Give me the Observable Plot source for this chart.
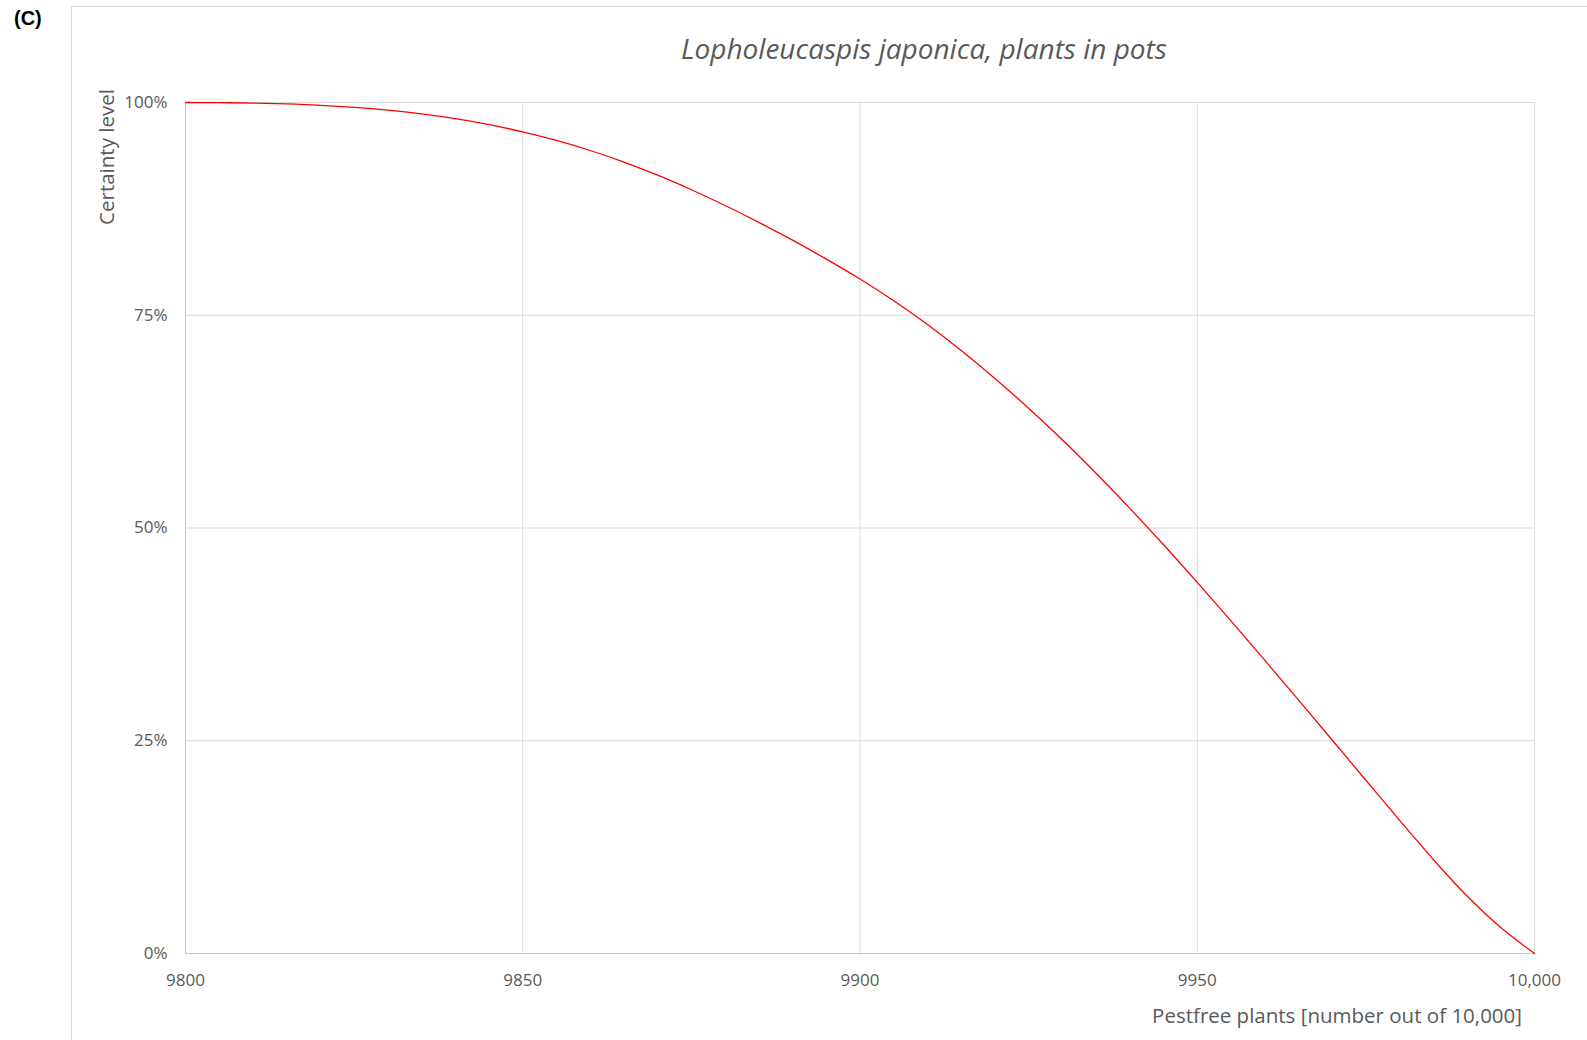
<!DOCTYPE html>
<html>
<head>
<meta charset="utf-8">
<script src="https://cdn.jsdelivr.net/npm/d3@7"></script>
<script src="https://cdn.jsdelivr.net/npm/@observablehq/plot@0.6"></script>
<style>
  html, body { margin: 0; padding: 0; background: #fff; }
  #wrap { position: relative; width: 1587px; height: 1040px; overflow: hidden; }
  #frame { position: absolute; left: 71px; top: 6px; width: 1600px; height: 1100px;
           border-left: 1px solid #d9d9d9; border-top: 1px solid #d9d9d9; }
  #panel { position: absolute; left: 14px; top: 7px; font: bold 20px "Liberation Sans", Arial, sans-serif; color: #000; }
  #title { position: absolute; left: 0; width: 1848px; top: 29px; text-align: center;
           font: italic 28px "Open Sans", sans-serif; color: #595959; }
  #ylab { position: absolute; left: 106px; top: 157px; transform: translate(-50%, -50%) rotate(-90deg);
          white-space: nowrap; font: 20.5px "Open Sans", sans-serif; color: #595959; }
  #xlab { position: absolute; right: 65px; top: 1001px; white-space: nowrap;
          font: 20.5px "Open Sans", sans-serif; color: #595959; }
  #chart { position: absolute; left: 0; top: 0; }
</style>
</head>
<body>
<div id="wrap">
  <div id="frame"></div>
  <div id="chart"></div>
  <div id="panel">(C)</div>
  <div id="title">Lopholeucaspis japonica, plants in pots</div>
  <div id="ylab">Certainty level</div>
  <div id="xlab">Pestfree plants [number out of 10,000]</div>
</div>
<script>
// Pest-free plants (number out of 10,000)
const pestfree = [9800, 9805, 9810, 9815, 9820, 9825, 9830, 9835, 9840, 9845,
                  9850, 9855, 9860, 9865, 9870, 9875, 9880, 9885, 9890, 9895,
                  9900, 9905, 9910, 9915, 9920, 9925, 9930, 9935, 9940, 9945,
                  9950, 9955, 9960, 9965, 9970, 9975, 9980, 9985, 9990, 9995, 10000];
// Certainty level (%)
const certainty = [100, 99.98, 99.93, 99.83, 99.67, 99.43, 99.10, 98.66, 98.10, 97.40,
                   96.55, 95.54, 94.36, 93.00, 91.46, 89.75, 87.90, 85.92, 83.82, 81.60,
                   79.26, 76.71, 73.91, 70.86, 67.58, 64.08, 60.36, 56.43, 52.31, 48.03,
                   43.61, 39.08, 34.47, 29.80, 25.09, 20.36, 15.65, 11.05, 6.75, 3.05, 0];

const xTicks = [9800, 9850, 9900, 9950, 10000];
const xTickLabels = ["9800", "9850", "9900", "9950", "10,000"];
const yTicks = [0, 25, 50, 75, 100];
const yTickLabels = ["0%", "25%", "50%", "75%", "100%"];

const data = pestfree.map((x, i) => ({x, y: certainty[i]}));

const chart = Plot.plot({
  width: 1587,
  height: 1040,
  marginLeft: 185,
  marginRight: 53,
  marginTop: 102,
  marginBottom: 87,
  style: {fontFamily: "'Open Sans', sans-serif", fontSize: "17px", color: "#595959", background: "transparent"},
  x: {domain: [9800, 10000]},
  y: {domain: [0, 100]},
  marks: [
    Plot.gridX(xTicks, {stroke: "#d9d9d9", strokeOpacity: 1}),
    Plot.gridY(yTicks, {stroke: "#d9d9d9", strokeOpacity: 1}),
    Plot.ruleX([9800], {stroke: "#c8c8c8"}),
    Plot.ruleY([0], {stroke: "#c8c8c8"}),
    Plot.axisX(xTicks, {tickSize: 0, tickPadding: 20, label: null,
      tickFormat: d => xTickLabels[xTicks.indexOf(d)], fill: "#595959"}),
    Plot.axisY(yTicks, {tickSize: 0, tickPadding: 18, label: null,
      tickFormat: d => yTickLabels[yTicks.indexOf(d)], fill: "#595959"}),
    Plot.line(data, {x: "x", y: "y", stroke: "#ff0000", strokeWidth: 1.3, curve: "monotone-x"})
  ]
});
document.getElementById("chart").appendChild(chart);
</script>
</body>
</html>
